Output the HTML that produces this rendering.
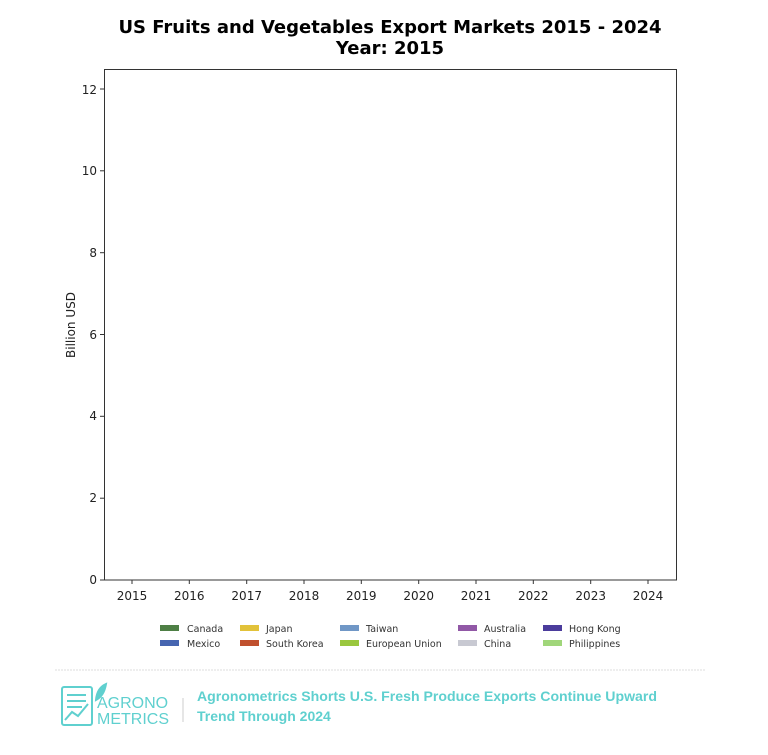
<!DOCTYPE html>
<html><head><meta charset="utf-8"><style>
html,body{margin:0;padding:0;background:#fff;width:768px;height:755px;overflow:hidden}
svg{display:block;font-family:"DejaVu Sans","Liberation Sans",sans-serif}
</style></head><body>
<svg width="768" height="755" viewBox="0 0 768 755" xmlns="http://www.w3.org/2000/svg">
<text x="390" y="33" text-anchor="middle" font-size="18" font-weight="bold" fill="#000">US Fruits and Vegetables Export Markets 2015 - 2024</text>
<text x="390" y="54" text-anchor="middle" font-size="18" font-weight="bold" fill="#000">Year: 2015</text>
<rect x="104.5" y="69.5" width="572" height="510.5" fill="none" stroke="#333" stroke-width="1"/>
<g font-size="12" fill="#222" text-anchor="end" stroke="none">
<text x="97" y="584">0</text><text x="97" y="502">2</text><text x="97" y="420">4</text><text x="97" y="339">6</text><text x="97" y="257">8</text><text x="97" y="175">10</text><text x="97" y="94">12</text>
</g>
<g stroke="#333" stroke-width="1">
<line x1="100" x2="104.5" y1="580" y2="580"/><line x1="100" x2="104.5" y1="498.2" y2="498.2"/><line x1="100" x2="104.5" y1="416.3" y2="416.3"/><line x1="100" x2="104.5" y1="334.5" y2="334.5"/><line x1="100" x2="104.5" y1="252.7" y2="252.7"/><line x1="100" x2="104.5" y1="170.8" y2="170.8"/><line x1="100" x2="104.5" y1="89" y2="89"/>
<line x1="132" x2="132" y1="580" y2="584"/><line x1="189.3" x2="189.3" y1="580" y2="584"/><line x1="246.7" x2="246.7" y1="580" y2="584"/><line x1="304" x2="304" y1="580" y2="584"/><line x1="361.3" x2="361.3" y1="580" y2="584"/><line x1="418.7" x2="418.7" y1="580" y2="584"/><line x1="476" x2="476" y1="580" y2="584"/><line x1="533.3" x2="533.3" y1="580" y2="584"/><line x1="590.7" x2="590.7" y1="580" y2="584"/><line x1="648" x2="648" y1="580" y2="584"/>
</g>
<g font-size="12" fill="#222" text-anchor="middle">
<text x="132" y="600">2015</text><text x="189.3" y="600">2016</text><text x="246.7" y="600">2017</text><text x="304" y="600">2018</text><text x="361.3" y="600">2019</text><text x="418.7" y="600">2020</text><text x="476" y="600">2021</text><text x="533.3" y="600">2022</text><text x="590.7" y="600">2023</text><text x="648" y="600">2024</text>
</g>
<text transform="translate(75,325) rotate(-90)" text-anchor="middle" font-size="12" fill="#222">Billion USD</text>
<g font-size="9.5" fill="#333">
<rect x="160" y="625" width="19" height="6" fill="#4e7f45"/><text x="187" y="632">Canada</text>
<rect x="160" y="640" width="19" height="6" fill="#4665b0"/><text x="187" y="647">Mexico</text>
<rect x="240" y="625" width="19" height="6" fill="#e2c23a"/><text x="266" y="632">Japan</text>
<rect x="240" y="640" width="19" height="6" fill="#c0502e"/><text x="266" y="647">South Korea</text>
<rect x="340" y="625" width="19" height="6" fill="#7097c6"/><text x="366" y="632">Taiwan</text>
<rect x="340" y="640" width="19" height="6" fill="#9ac73e"/><text x="366" y="647">European Union</text>
<rect x="458" y="625" width="19" height="6" fill="#9158a6"/><text x="484" y="632">Australia</text>
<rect x="458" y="640" width="19" height="6" fill="#c8c9d2"/><text x="484" y="647">China</text>
<rect x="543" y="625" width="19" height="6" fill="#4b3c9c"/><text x="569" y="632">Hong Kong</text>
<rect x="543" y="640" width="19" height="6" fill="#a0d67a"/><text x="569" y="647">Philippines</text>
</g>
<line x1="55" x2="705" y1="670" y2="670" stroke="#ddd" stroke-width="1" stroke-dasharray="2,1"/>
<g stroke="#5fd0cf" fill="none" stroke-width="2">
<rect x="62" y="687" width="30" height="38" rx="2"/>
<line x1="67" y1="695" x2="86" y2="695"/><line x1="67" y1="701" x2="86" y2="701"/><line x1="67" y1="707" x2="82" y2="707"/>
<polyline points="65,720 72,712 78,716 88,704"/>
<path d="M96,700 Q97,688 106,684 Q104,696 96,700 Z" fill="#5fd0cf"/>
</g>
<text x="97" y="708" font-size="16" fill="#5fd0cf" font-family="Liberation Sans, sans-serif">AGRONO</text>
<text x="97" y="724" font-size="16" fill="#5fd0cf" font-family="Liberation Sans, sans-serif">METRICS</text>
<line x1="183" x2="183" y1="698" y2="722" stroke="#ccc"/>
<text x="197" y="701" font-size="14" font-weight="bold" fill="#5fd0cf" font-family="Liberation Sans, sans-serif" textLength="460" lengthAdjust="spacingAndGlyphs">Agronometrics Shorts U.S. Fresh Produce Exports Continue Upward</text>
<text x="197" y="721" font-size="14" font-weight="bold" fill="#5fd0cf" font-family="Liberation Sans, sans-serif">Trend Through 2024</text>
</svg>
</body></html>
